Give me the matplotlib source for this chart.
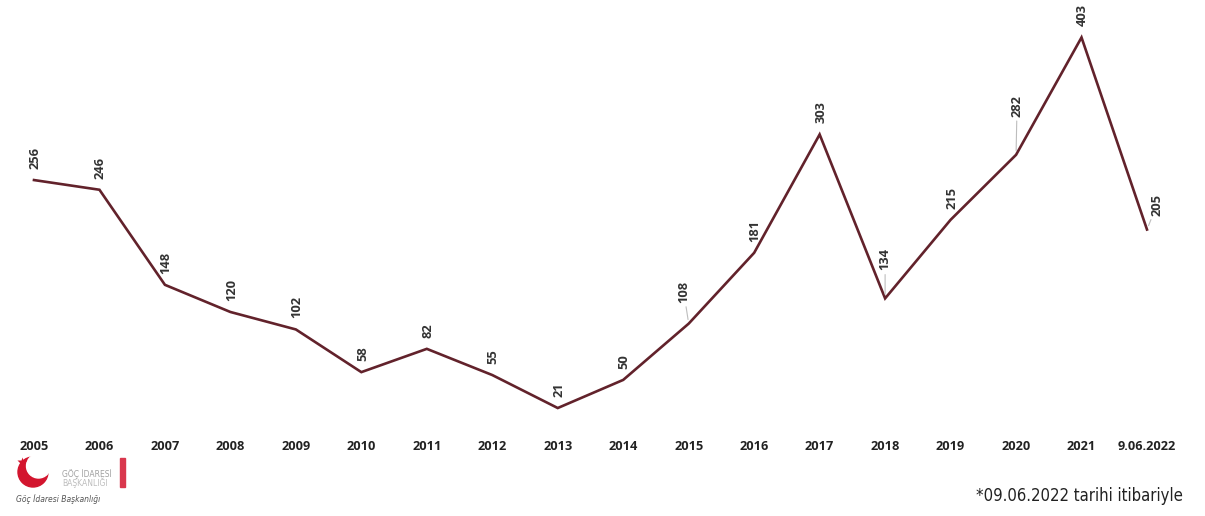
import matplotlib
matplotlib.use("Agg")
import matplotlib.pyplot as plt
from matplotlib.patches import Circle, Rectangle

# ---- data ----
categories = ["2005", "2006", "2007", "2008", "2009", "2010", "2011", "2012", "2013",
              "2014", "2015", "2016", "2017", "2018", "2019", "2020", "2021", "9.06.2022"]
values = [256, 246, 148, 120, 102, 58, 82, 55, 21, 50, 108, 181, 303, 134, 215, 282, 403, 205]
footnote = "*09.06.2022 tarihi itibariyle"

# label offsets in pixels (dx, dy) and whether a leader line is drawn
label_offsets = {10: (-5, 21, True), 13: (0, 28, True), 15: (1, 38, True), 17: (10, 14, True)}

W, H = 1205, 516
fig = plt.figure(figsize=(W / 100, H / 100), dpi=100)
fig.patch.set_facecolor("white")

ax = fig.add_axes([0, 1 - 430 / H, 1, 430 / H])
x = list(range(len(categories)))
ax.plot(x, values, color="#62222b", lw=1.9, solid_joinstyle="miter", zorder=3)
ax.set_xlim(-0.519, 17.886)
ax.set_ylim(-1.65, 441.6)
ax.set_xticks(x)
ax.set_xticklabels(categories, fontfamily="Open Sans", fontweight="bold", fontsize=9.2, color="#222222")
ax.tick_params(axis="x", length=0, pad=7)
ax.set_yticks([])
for s in ax.spines.values():
    s.set_visible(False)

for i, v in enumerate(values):
    dx, dy, leader = label_offsets.get(i, (1, 11, False))
    kw = {}
    if leader:
        kw["arrowprops"] = dict(arrowstyle="-", color="#bdbdbd", lw=0.8, shrinkA=1, shrinkB=3)
    ax.annotate(str(v), (i, v), xytext=(dx, dy), textcoords="offset pixels",
                rotation=90, ha="center", va="bottom", fontsize=9.3,
                fontfamily="Open Sans", fontweight="bold", color="#333333",
                annotation_clip=False, **kw)

# footnote
fig.text(1183 / W, 1 - 496 / H, footnote, ha="right", va="center",
         fontsize=12, fontfamily="DejaVu Sans", fontstretch="condensed", color="#222222")

# logo (approximation)
lax = fig.add_axes([12 / W, 1 - 506 / H, 118 / W, 54 / H])
lax.set_xlim(12, 130)
lax.set_ylim(506, 452)
lax.axis("off")
lax.add_patch(Circle((33, 472), 15, color="#d3152e"))
lax.add_patch(Circle((38.5, 466), 12, color="white"))
lax.plot([22], [462], marker="*", color="#d3152e", ms=7, mec="none")
lax.add_patch(Rectangle((120, 458), 5, 29, color="#d9374d"))
lax.text(62, 474, "GÖÇ İDARESİ", fontsize=5.5, color="#a0a0a0", va="center", ha="left")
lax.text(62, 483, "BAŞKANLIĞI", fontsize=5.5, color="#bdbdbd", va="center", ha="left")
lax.text(16, 499, "Göç İdaresi Başkanlığı", fontsize=5.5, color="#555555", style="italic",
         va="center", ha="left")

fig.savefig("out.png", dpi=100, facecolor="white")
